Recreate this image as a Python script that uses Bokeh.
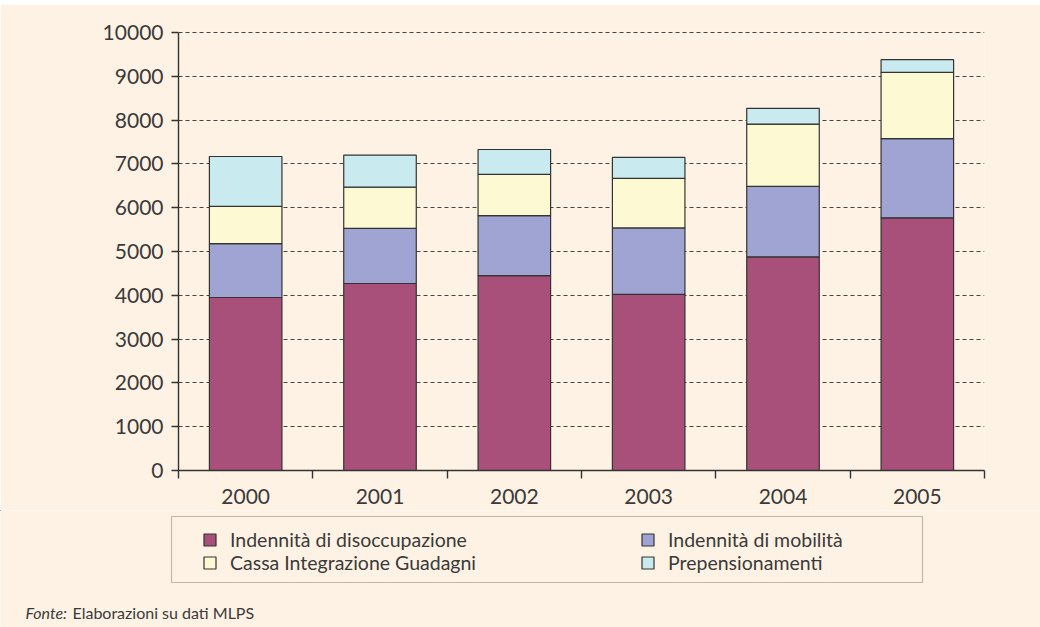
from bokeh.plotting import figure
from bokeh.layouts import column
from bokeh.models import (ColumnDataSource, Range1d, FixedTicker, Legend, LegendItem,
                          Label, BoxAnnotation)
from bokeh.embed import file_html
from bokeh.resources import INLINE

# ---- data ----
years = ["2000", "2001", "2002", "2003", "2004", "2005"]
disoccupazione = [3950, 4270, 4450, 4020, 4880, 5770]
mobilita = [1230, 1260, 1370, 1520, 1610, 1810]
cig = [850, 940, 940, 1130, 1420, 1510]
prepensionamenti = [1140, 730, 570, 480, 360, 290]
series_labels = ["Indennità di disoccupazione", "Indennità di mobilità",
                 "Cassa Integrazione Guadagni", "Prepensionamenti"]
y_ticks = [0, 1000, 2000, 3000, 4000, 5000, 6000, 7000, 8000, 9000, 10000]
source_italic = "Fonte:"
source_note = "Elaborazioni su dati MLPS"

BG = "#FEF2E4"
ORANGE = "#F7941D"
colors = ["#A8507A", "#A0A4D2", "#FDF9D3", "#C9EAEE"]
FONT = "Lato"
TXT = "#3a3a3a"
W = 1040


def blank(fig):
    fig.axis.visible = False
    fig.grid.visible = False
    fig.frame_align = False


# ---- top orange band ----
band = figure(width=W, height=4, output_backend="svg", toolbar_location=None,
              min_border=0, background_fill_color=ORANGE, border_fill_color=ORANGE,
              outline_line_color=None)
blank(band)

# ---- main chart ----
xs = [i + 0.5 for i in range(len(years))]
source = ColumnDataSource(dict(x=xs, dis=disoccupazione, mob=mobilita, cig=cig, pre=prepensionamenti))

p = figure(width=W, height=506, output_backend="svg", toolbar_location=None,
           x_range=Range1d(0, len(years)), y_range=Range1d(0, 10070),
           min_border_left=178, min_border_right=56, min_border_top=25, min_border_bottom=40,
           background_fill_color=BG, border_fill_color=BG, outline_line_color=None)
p.frame_align = False

rs = p.vbar_stack(["dis", "mob", "cig", "pre"], x="x", width=0.54, source=source,
                  fill_color=colors, line_color="#333333", line_width=1.2)

p.yaxis.ticker = FixedTicker(ticks=y_ticks, minor_ticks=[])
p.yaxis.bounds = (0, 10000)
p.yaxis.axis_line_color = "#333333"
p.yaxis.axis_line_width = 1.4
p.yaxis.major_tick_line_color = "#333333"
p.yaxis.major_tick_line_width = 1.4
p.yaxis.major_tick_out = 7
p.yaxis.major_tick_in = 0
p.yaxis.major_label_standoff = 8
p.yaxis.major_label_text_font = FONT
p.yaxis.major_label_text_font_size = "21px"
p.yaxis.major_label_text_color = TXT

p.xaxis.ticker = FixedTicker(ticks=xs, minor_ticks=list(range(len(years) + 1)))
p.xaxis.major_label_overrides = {x: y for x, y in zip(xs, years)}
p.xaxis.axis_line_color = "#333333"
p.xaxis.axis_line_width = 1.4
p.xaxis.major_tick_line_color = None
p.xaxis.major_tick_out = 0
p.xaxis.major_tick_in = 0
p.xaxis.minor_tick_line_color = "#333333"
p.xaxis.minor_tick_line_width = 1.4
p.xaxis.minor_tick_out = 8
p.xaxis.minor_tick_in = 0
p.xaxis.major_label_standoff = 10
p.xaxis.major_label_text_font = FONT
p.xaxis.major_label_text_font_size = "21px"
p.xaxis.major_label_text_color = TXT

p.xgrid.grid_line_color = None
p.ygrid.grid_line_color = "#444444"
p.ygrid.grid_line_dash = "4 3"
p.ygrid.grid_line_width = 1.2

# ---- legend + footer panel ----
H2 = 117
q = figure(width=W, height=H2, output_backend="svg", toolbar_location=None,
           x_range=Range1d(0, W), y_range=Range1d(H2, 0),
           min_border=0, background_fill_color=BG, border_fill_color=BG,
           outline_line_color=None)
blank(q)

swatches = []
for c in colors:
    swatches.append(q.vbar(x=[-500], top=[0], bottom=[0], width=1, fill_color=c,
                           line_color="#333333", line_width=1.2))


def make_legend(idx, loc):
    lg = Legend(items=[LegendItem(label=series_labels[i], renderers=[swatches[i]]) for i in idx],
                location=loc, orientation="vertical", padding=9, spacing=0, margin=0,
                glyph_width=15, glyph_height=15, label_height=23, label_standoff=13,
                label_text_font=FONT, label_text_font_size="19.5px", label_text_color=TXT,
                border_line_color=None, background_fill_alpha=0)
    q.add_layout(lg, "center")


make_legend([0, 2], (202, 53))
make_legend([1, 3], (640, 53))

q.add_layout(BoxAnnotation(left=171, right=922, top=6, bottom=72,
                           fill_alpha=0, line_color="#333333", line_width=1.2))

q.add_layout(Label(x=25, y=102, text=source_italic, text_baseline="alphabetic",
                   text_font=FONT, text_font_style="italic", text_font_size="16px",
                   text_color=TXT))
q.add_layout(Label(x=72, y=102, text=source_note, text_baseline="alphabetic",
                   text_font=FONT, text_font_size="16px", text_color=TXT))

layout = column(band, p, q, spacing=0)
open("out.html", "w").write(file_html(layout, INLINE))
